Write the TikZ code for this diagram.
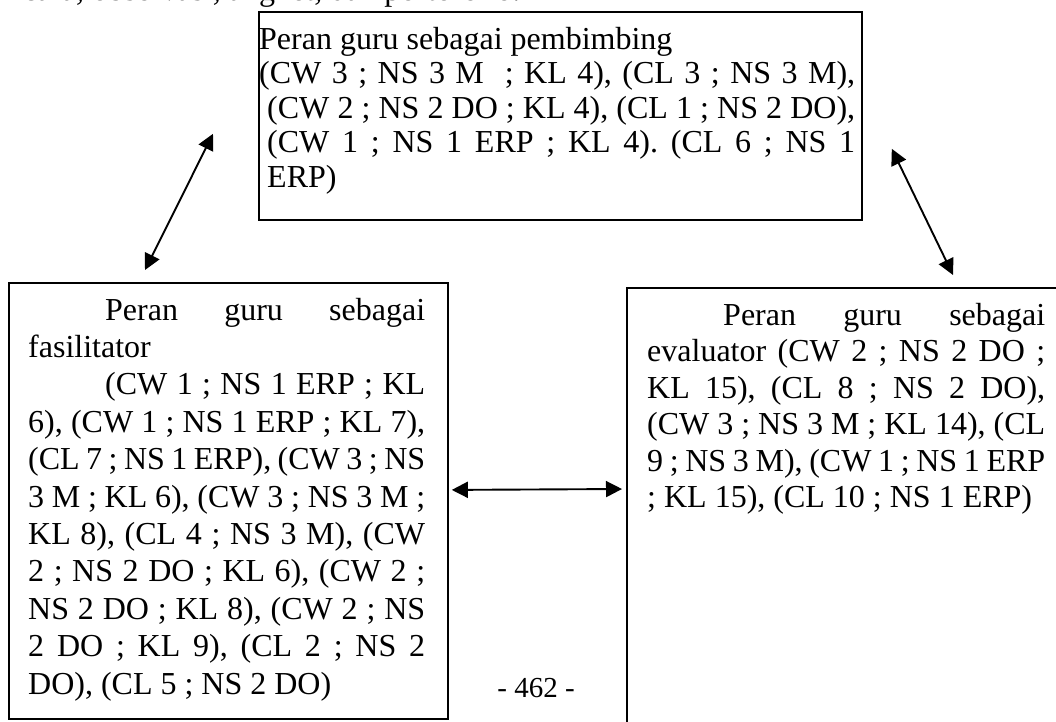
\documentclass[tikz,border=0pt]{standalone}
\usepackage{fontspec}
\setmainfont{Liberation Serif}
\usetikzlibrary{arrows.meta}
\newcommand\jl[1]{\makebox[\linewidth][s]{#1}\\}
\frenchspacing
\begin{document}
\begin{tikzpicture}[x=1pt,y=-1pt,
  box/.style={draw, line width=1.8pt, rectangle, inner sep=0pt, anchor=north west},
  txt/.style={inner sep=0pt, anchor=base west, font=\fontsize{32}{37.4}\selectfont},
  arr/.style={line width=1.9pt, {Triangle[length=16pt,width=16pt]}-{Triangle[length=16pt,width=16pt]}}]
\useasboundingbox (0,0) rectangle (1056,721);
\clip (0,0) rectangle (1056,721);
% clipped line of page text above
\node[txt] (prev) at (-68,0) {wawancara, observasi, angket, dan portofolio.};
% boxes
\node[box, minimum width=603pt, minimum height=208pt] (tbox) at (258,11) {};
\node[box, minimum width=439pt, minimum height=436pt] (lbox) at (8,282) {};
\node[box, minimum width=460pt, minimum height=460pt] (rbox) at (626,287) {};
% texts
\node[txt, font=\fontsize{32}{34.5}\selectfont] (ttext) at (259,49) {\parbox[t]{596pt}{%
Peran guru sebagai pembimbing\\
\jl{(CW 3 ; NS 3 M\ \ ; KL 4), (CL 3 ; NS 3 M),}
\jl{\hspace*{8pt}(CW 2 ; NS 2 DO ; KL 4), (CL 1 ; NS 2 DO),}
\jl{\hspace*{8pt}(CW 1 ; NS 1 ERP ; KL 4). (CL 6 ; NS 1}
\hspace*{8pt}ERP)}};
\node[txt] (ltext) at (28,320) {\parbox[t]{397pt}{%
\jl{\hspace*{77pt}Peran guru sebagai}
fasilitator\\
\jl{\hspace*{77pt}(CW 1 ; NS 1 ERP ; KL}
\jl{6), (CW 1 ; NS 1 ERP ; KL 7),}
\jl{(CL 7 ; NS 1 ERP), (CW 3 ; NS}
\jl{3 M ; KL 6), (CW 3 ; NS 3 M ;}
\jl{KL 8), (CL 4 ; NS 3 M), (CW}
\jl{2 ; NS 2 DO ; KL 6), (CW 2 ;}
\jl{NS 2 DO ; KL 8), (CW 2 ; NS}
\jl{2 DO ; KL 9), (CL 2 ; NS 2}
DO), (CL 5 ; NS 2 DO)}};
\node[txt, font=\fontsize{32}{36.5}\selectfont] (rtext) at (647,325) {\parbox[t]{398pt}{%
\jl{\hspace*{76pt}Peran guru sebagai}
\jl{evaluator (CW 2 ; NS 2 DO ;}
\jl{KL 15), (CL 8 ; NS 2 DO),}
\jl{(CW 3 ; NS 3 M ; KL 14), (CL}
\jl{9 ; NS 3 M), (CW 1 ; NS 1 ERP}
; KL 15), (CL 10 ; NS 1 ERP)}};
\node[inner sep=0pt, anchor=base, font=\fontsize{29}{34}\selectfont] (page) at (536,697) {- 462 -};
% connectors
\draw[arr] ([shift={(137,-12)}]lbox.north west) -- ([shift={(-45,-87)}]tbox.south west);
\draw[arr] ([shift={(29,-72)}]tbox.south east) -- ([shift={(327,-12)}]rbox.north west);
\draw[arr] ([shift={(3,-11)}]lbox.east) -- ([shift={(-4,202)}]rbox.north west);
\end{tikzpicture}
\end{document}
